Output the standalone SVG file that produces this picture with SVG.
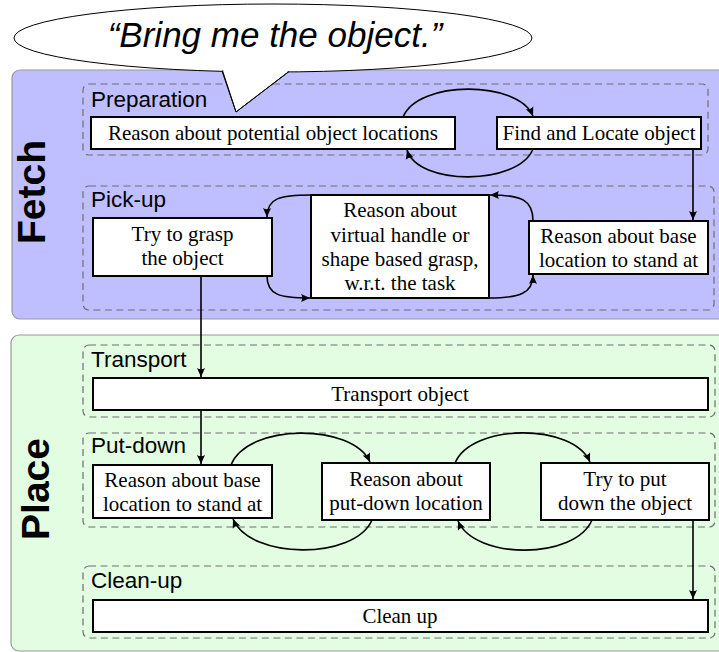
<svg xmlns="http://www.w3.org/2000/svg" width="719" height="652" viewBox="0 0 719 652">
  <style>
    .panel { stroke: #999999; stroke-width: 1.2; }
    .group { fill: none; stroke: #6e6e6e; stroke-width: 1.2; stroke-dasharray: 7 4.5; }
    .box { fill: #ffffff; stroke: #000000; stroke-width: 2; }
    .lbl { font-family: "Liberation Sans", Arial, sans-serif; font-size: 22.5px; fill: #000; }
    .txt { font-family: "Liberation Serif", "Times New Roman", serif; font-size: 21px; fill: #000; text-anchor: middle; }
    .phase { font-family: "Liberation Sans", Arial, sans-serif; font-size: 39px; font-weight: bold; fill: #000; text-anchor: middle; }
    .edge { fill: none; stroke: #000; stroke-width: 1.6; marker-end: url(#arrow); }
  </style>
  <defs>
    <marker id="arrow" markerUnits="userSpaceOnUse" markerWidth="12" markerHeight="12" viewBox="-10 -5 12 10" refX="0" refY="0" orient="auto">
      <path d="M0,0 L-9,-4 Q-6.5,0 -9,4 Z" fill="#000"/>
    </marker>
  </defs>

  <!-- phase panels -->
  <g id="fetch-panel">
    <rect class="panel" x="12" y="70" width="720" height="249" rx="8" fill="#bfbfff"/>
    <text class="phase" transform="translate(45,192) rotate(-90)">Fetch</text>
  </g>
  <g id="place-panel">
    <rect class="panel" x="11" y="335" width="720" height="316" rx="8" fill="#e2fde2"/>
    <text class="phase" transform="translate(49,489) rotate(-90)">Place</text>
  </g>

  <!-- step groups -->
  <g id="preparation">
    <rect class="group" x="83" y="84" width="625" height="71" rx="6"/>
    <text class="lbl" x="91" y="107">Preparation</text>
  </g>
  <g id="pick-up">
    <rect class="group" x="83" y="186" width="631" height="124" rx="6"/>
    <text class="lbl" x="91" y="207">Pick-up</text>
  </g>
  <g id="transport">
    <rect class="group" x="83" y="345" width="632" height="72" rx="6"/>
    <text class="lbl" x="91" y="367">Transport</text>
  </g>
  <g id="put-down">
    <rect class="group" x="83" y="433" width="632" height="94" rx="6"/>
    <text class="lbl" x="91" y="453">Put-down</text>
  </g>
  <g id="clean-up">
    <rect class="group" x="83" y="566" width="632" height="72" rx="6"/>
    <text class="lbl" x="91" y="588">Clean-up</text>
  </g>

  <!-- speech bubble -->
  <g id="bubble">
    <ellipse cx="273" cy="38" rx="259" ry="34" fill="#ffffff" stroke="#000" stroke-width="1"/>
    <path d="M222,71 L236,112 L289,71.5" fill="#ffffff" stroke="#000" stroke-width="1"/>
    <rect x="224" y="68" width="63" height="5" fill="#ffffff"/>
    <path d="M222.5,70.5 L236,112 L288.5,71.8" fill="none" stroke="#000" stroke-width="1"/>
    <text x="275" y="47" font-family="'Liberation Sans', Arial, sans-serif" font-size="35" font-style="italic" text-anchor="middle">“Bring me the object.”</text>
  </g>

  <!-- task nodes -->
  <g id="reason-locations">
    <rect class="box" x="91" y="117" width="364" height="32"/>
    <text class="txt" x="273" y="140">Reason about potential object locations</text>
  </g>
  <g id="find-locate">
    <rect class="box" x="497" y="117" width="204" height="32"/>
    <text class="txt" x="599" y="140">Find and Locate object</text>
  </g>
  <g id="try-grasp">
    <rect class="box" x="93" y="218" width="179" height="58"/>
    <text class="txt" x="182.5" y="241">Try to grasp</text>
    <text class="txt" x="182.5" y="265">the object</text>
  </g>
  <g id="reason-grasp">
    <rect class="box" x="311" y="195" width="178" height="103"/>
    <text class="txt" x="400" y="217">Reason about</text>
    <text class="txt" x="400" y="242">virtual handle or</text>
    <text class="txt" x="400" y="266">shape based grasp,</text>
    <text class="txt" x="400" y="290">w.r.t. the task</text>
  </g>
  <g id="reason-base-pick">
    <rect class="box" x="529" y="221" width="179" height="53"/>
    <text class="txt" x="618.5" y="243">Reason about base</text>
    <text class="txt" x="618.5" y="267">location to stand at</text>
  </g>
  <g id="transport-object">
    <rect class="box" x="93" y="378" width="615" height="32"/>
    <text class="txt" x="400" y="401">Transport object</text>
  </g>
  <g id="reason-base-put">
    <rect class="box" x="93" y="465" width="179" height="53"/>
    <text class="txt" x="182.5" y="487">Reason about base</text>
    <text class="txt" x="182.5" y="511">location to stand at</text>
  </g>
  <g id="reason-put-location">
    <rect class="box" x="322" y="463" width="168" height="57"/>
    <text class="txt" x="406" y="486">Reason about</text>
    <text class="txt" x="406" y="510">put-down location</text>
  </g>
  <g id="try-put">
    <rect class="box" x="541" y="463" width="168" height="57"/>
    <text class="txt" x="625" y="486">Try to put</text>
    <text class="txt" x="625" y="510">down the object</text>
  </g>
  <g id="clean-up-task">
    <rect class="box" x="93" y="600" width="615" height="32"/>
    <text class="txt" x="400" y="623">Clean up</text>
  </g>

  <!-- connectors -->
  <g id="connectors">
    <path class="edge" d="M403,117 C418,80 518,80 533,116"/>
    <path class="edge" d="M533,149 C518,186 418,186 407,150"/>
    <path class="edge" d="M693,149 L693,220"/>
    <path class="edge" d="M533,221 C533,200 522,195 490,195"/>
    <path class="edge" d="M311,195 C280,195 267,198 267,217"/>
    <path class="edge" d="M267,276 C267,295 280,298 310,298"/>
    <path class="edge" d="M489,298 C520,298 533,293 533,275"/>
    <path class="edge" d="M201,276 L201,377"/>
    <path class="edge" d="M201,410 L201,464"/>
    <path class="edge" d="M231,465 C248,423 352,423 370,462"/>
    <path class="edge" d="M455,463 C472,423 573,423 590,462"/>
    <path class="edge" d="M592,520 C575,560 475,560 458,521"/>
    <path class="edge" d="M372,520 C355,560 250,560 233,519"/>
    <path class="edge" d="M693,520 L693,599"/>
  </g>
</svg>
